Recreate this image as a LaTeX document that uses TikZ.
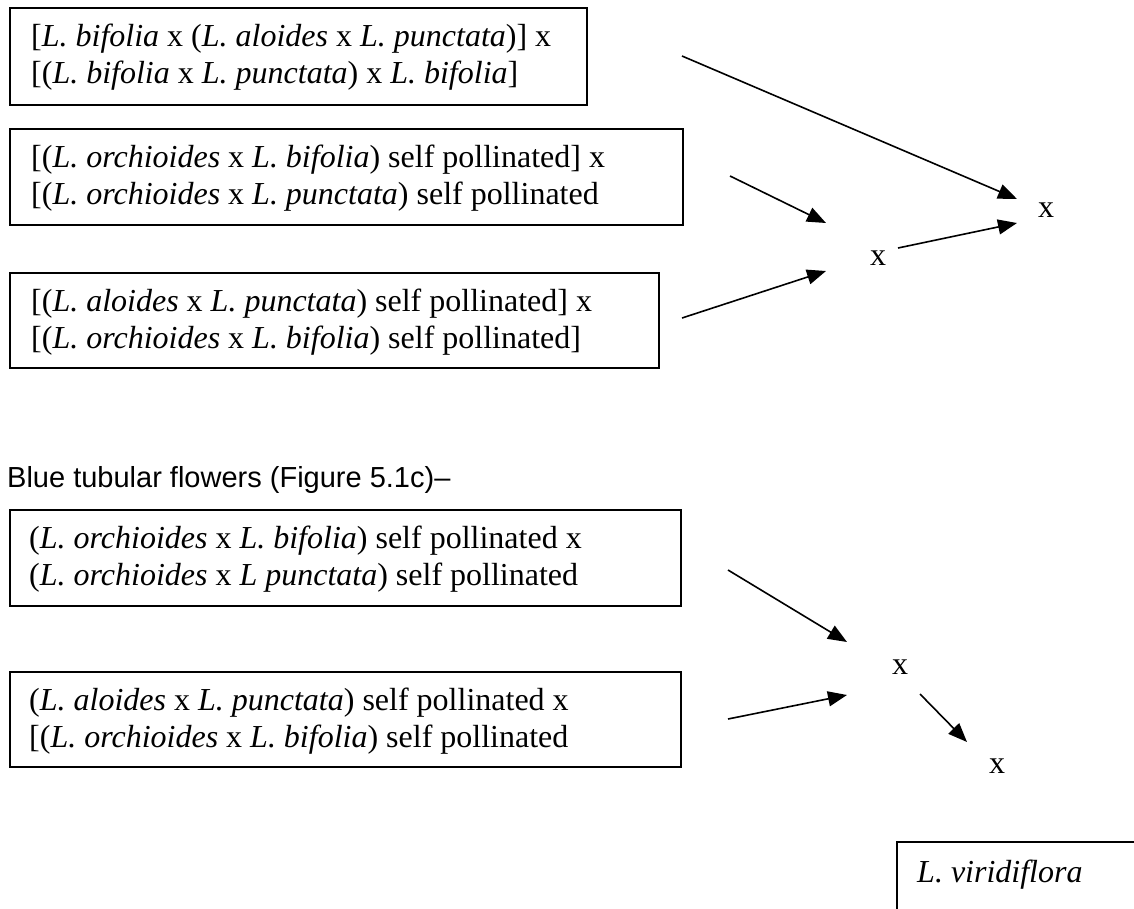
\documentclass[tikz,border=0pt]{standalone}
\usepackage{fontspec}
\setmainfont{Liberation Serif}
\newfontfamily\arialfont{Liberation Sans}
\usetikzlibrary{arrows.meta}
\begin{document}
\begin{tikzpicture}[x=1pt,y=-1pt,
  box/.style={draw,line width=1.9pt,rectangle,inner sep=0pt,anchor=north west},
  lbl/.style={anchor=base west,inner sep=0pt,font=\fontsize{32}{37}\selectfont},
  cross/.style={anchor=base,inner sep=0pt,font=\fontsize{32}{37}\selectfont},
  head/.style={anchor=base west,inner sep=0pt,font=\arialfont\fontsize{29}{34}\selectfont},
  arr/.style={line width=1.6pt,-{Triangle[length=19pt,width=15pt]}}]
\useasboundingbox (0,0) rectangle (1134,908);
\clip (0,0) rectangle (1134,908);
% boxes
\node[box,minimum width=577pt,minimum height=97pt] (b1) at (9,7) {};
\node[box,minimum width=673pt,minimum height=96pt] (b2) at (9,128) {};
\node[box,minimum width=649pt,minimum height=95pt] (b3) at (9,272) {};
\node[box,minimum width=671pt,minimum height=96pt] (b4) at (9,509) {};
\node[box,minimum width=671pt,minimum height=95pt] (b5) at (9,671) {};
\node[box,minimum width=300pt,minimum height=100pt] (b6) at (896,841) {};
% texts
\node[lbl] (t1a) at (31,46) {[\textit{L. bifolia} x (\textit{L. aloides} x \textit{L. punctata})] x};
\node[lbl] (t1b) at (31,83) {[(\textit{L. bifolia} x \textit{L. punctata}) x \textit{L. bifolia}]};
\node[lbl] (t2a) at (31,167) {[(\textit{L. orchioides} x \textit{L. bifolia}) self pollinated] x};
\node[lbl] (t2b) at (31,204) {[(\textit{L. orchioides} x \textit{L. punctata}) self pollinated};
\node[lbl] (t3a) at (31,311) {[(\textit{L. aloides} x \textit{L. punctata}) self pollinated] x};
\node[lbl] (t3b) at (31,348) {[(\textit{L. orchioides} x \textit{L. bifolia}) self pollinated]};
\node[head] (hd) at (7,487) {Blue tubular flowers (Figure 5.1c)–};
\node[lbl] (t4a) at (29,548) {(\textit{L. orchioides} x \textit{L. bifolia}) self pollinated x};
\node[lbl] (t4b) at (29,585) {(\textit{L. orchioides} x \textit{L punctata}) self pollinated};
\node[lbl] (t5a) at (29,710) {(\textit{L. aloides} x \textit{L. punctata}) self pollinated x};
\node[lbl] (t5b) at (29,747) {[(\textit{L. orchioides} x \textit{L. bifolia}) self pollinated};
\node[lbl] (t6) at (917,882) {\textit{L. viridiflora}};
% crosses
\node[cross] (x1) at (1046,217) {x};
\node[cross] (x2) at (878,265) {x};
\node[cross] (x3) at (900,674) {x};
\node[cross] (x4) at (997,773) {x};
% arrow ends
\coordinate (a1s) at (682,56);  \coordinate (a1e) at (1017,199);
\coordinate (a2s) at (730,176); \coordinate (a2e) at (826,223);
\coordinate (a3s) at (682,318); \coordinate (a3e) at (826,271);
\coordinate (a4s) at (898,248); \coordinate (a4e) at (1017,223);
\coordinate (a5s) at (728,570); \coordinate (a5e) at (847,642);
\coordinate (a6s) at (728,719); \coordinate (a6e) at (847,695);
\coordinate (a7s) at (920,694); \coordinate (a7e) at (967,742);
\draw[arr] (a1s) -- (a1e);
\draw[arr] (a2s) -- (a2e);
\draw[arr] (a3s) -- (a3e);
\draw[arr] (a4s) -- (a4e);
\draw[arr] (a5s) -- (a5e);
\draw[arr] (a6s) -- (a6e);
\draw[arr] (a7s) -- (a7e);
\end{tikzpicture}
\end{document}
